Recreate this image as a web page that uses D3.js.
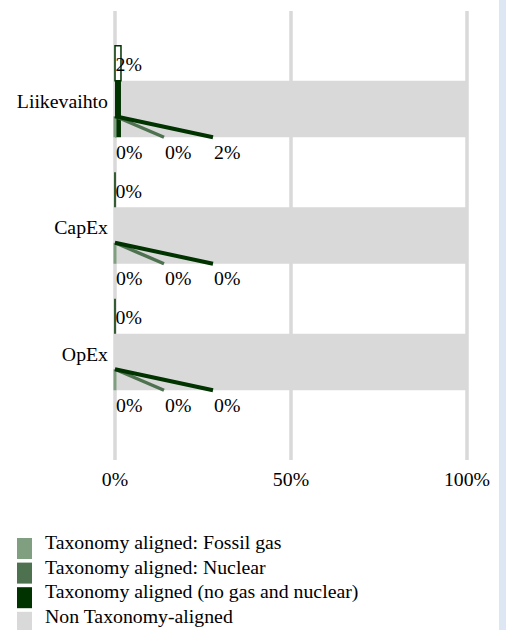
<!DOCTYPE html>
<html>
<head>
<meta charset="utf-8">
<script src="https://cdn.jsdelivr.net/npm/d3@7"></script>
<style>
  html, body { margin: 0; padding: 0; background: #fff; }
  svg { display: block; font-family: "Liberation Serif", "Times New Roman", serif; }
</style>
</head>
<body>
<div id="chart"></div>
<script>
// chart data
const categories = ['Liikevaihto', 'CapEx', 'OpEx'];
const fossilGas = [0, 0, 0];
const nuclear = [0, 0, 0];
const aligned = [1.7, 0, 0];
const nonAligned = [98.3, 100, 100];
const xTicks = [0, 50, 100];

const seriesNames = [
  'Taxonomy aligned: Fossil gas',
  'Taxonomy aligned: Nuclear',
  'Taxonomy aligned (no gas and nuclear)',
  'Non Taxonomy-aligned'
];
const colors = ['#809e80', '#4e7250', '#003300', '#d9d9d9'];

const width = 506, height = 630;
const fontSize = 19.8;
const svg = d3.select('#chart').append('svg')
  .attr('width', width)
  .attr('height', height);

// light blue strip at the right edge
svg.append('rect')
  .attr('x', 499).attr('y', 0)
  .attr('width', 7).attr('height', height)
  .attr('fill', '#dde7f4');

const x = d3.scaleLinear().domain([0, 100]).range([115, 467]);
const y = d3.scaleBand().domain(categories).range([45.75, 425.25]);

const barH = 56.5;   // main stacked bar
const topH = 35;     // outlined bar above it

// gridlines
svg.append('g')
  .selectAll('line')
  .data(xTicks)
  .join('line')
  .attr('x1', d => x(d)).attr('x2', d => x(d))
  .attr('y1', 11).attr('y2', 460)
  .attr('stroke', '#d9d9d9')
  .attr('stroke-width', 3.5);

// tick labels
svg.append('g')
  .selectAll('text')
  .data(xTicks)
  .join('text')
  .attr('x', d => x(d))
  .attr('y', 486)
  .attr('text-anchor', 'middle')
  .attr('font-size', fontSize)
  .text(d => d + '%');

// stacked bars
const rows = categories.map((c, i) => ({
  cat: c, vals: [fossilGas[i], nuclear[i], aligned[i], nonAligned[i]]
}));
const stack = d3.stack().keys([0, 1, 2, 3]).value((d, k) => d.vals[k]);
const layers = stack(rows);

const cy = c => y(c) + y.bandwidth() / 2;

svg.append('g')
  .selectAll('g')
  .data(layers)
  .join('g')
  .attr('fill', d => colors[d.key])
  .selectAll('rect')
  .data(d => d)
  .join('rect')
  .attr('x', d => x(d[0]))
  .attr('width', d => x(d[1]) - x(d[0]))
  .attr('y', d => cy(d.data.cat) - barH / 2)
  .attr('height', barH);

// outlined bar above each category (path so a zero width still shows)
svg.append('g')
  .selectAll('path')
  .data(categories)
  .join('path')
  .attr('d', (c, i) => {
    const y0 = cy(c) - barH / 2 - topH, y1 = cy(c) - barH / 2;
    return `M${x(0)},${y0}H${x(aligned[i])}V${y1}H${x(0)}Z`;
  })
  .attr('fill', '#fff')
  .attr('stroke', '#003300')
  .attr('stroke-width', 1.5);

svg.append('g')
  .selectAll('text')
  .data(categories)
  .join('text')
  .attr('x', x(0) + 0.5)
  .attr('y', c => cy(c) - barH / 2 - 9.5)
  .attr('font-size', fontSize)
  .text((c, i) => Math.round(aligned[i]) + '%');

// leader lines and labels for the small series, placed under the bar
const leaders = [
  { values: fossilGas, color: colors[0], dx: 0, w: 3 },
  { values: nuclear, color: colors[1], dx: 49, w: 3.5 },
  { values: aligned, color: colors[2], dx: 98, w: 4 }
];

categories.forEach((c, i) => {
  const bottom = cy(c) + barH / 2;
  const g = svg.append('g');
  leaders.forEach(l => {
    g.append('line')
      .attr('x1', x(0)).attr('y1', bottom - 21)
      .attr('x2', x(0) + l.dx).attr('y2', bottom)
      .attr('stroke', l.color)
      .attr('stroke-width', l.w);
  });
  leaders.forEach(l => {
    g.append('text')
      .attr('x', x(0) + l.dx + 1)
      .attr('y', bottom + 21.5)
      .attr('font-size', fontSize)
      .text(Math.round(l.values[i]) + '%');
  });
});

// category labels
svg.append('g')
  .selectAll('text')
  .data(categories)
  .join('text')
  .attr('x', 108)
  .attr('y', c => cy(c) - 1.5)
  .attr('text-anchor', 'end')
  .attr('font-size', fontSize)
  .text(d => d);

// legend
const legend = svg.append('g')
  .selectAll('g')
  .data(seriesNames)
  .join('g')
  .attr('transform', (d, i) => `translate(17,${538 + i * 24.6})`);

legend.append('rect')
  .attr('width', 15)
  .attr('height', 21)
  .attr('fill', (d, i) => colors[i]);

legend.append('text')
  .attr('x', 28)
  .attr('y', 11)
  .attr('font-size', fontSize)
  .text(d => d);
</script>
</body>
</html>
